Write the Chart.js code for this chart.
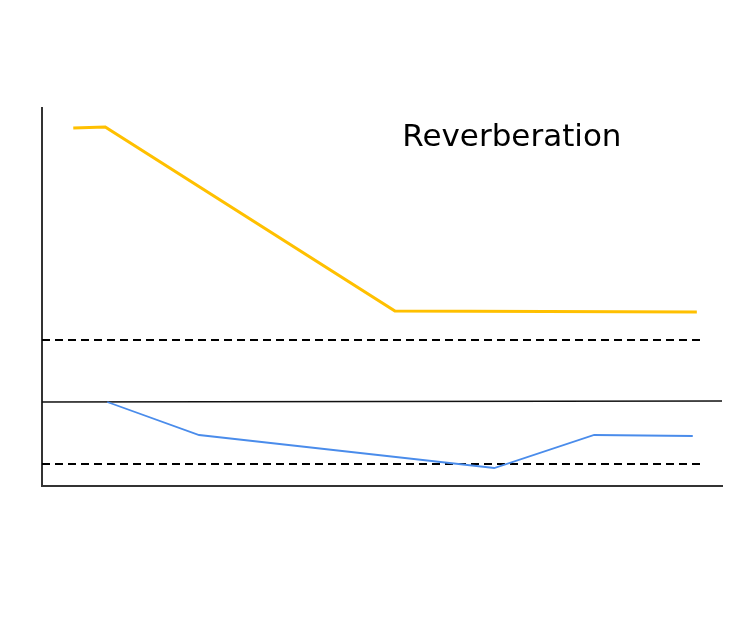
<!DOCTYPE html>
<html>
<head>
<meta charset="utf-8">
<script src="https://cdn.jsdelivr.net/npm/chart.js@4/dist/chart.umd.min.js"></script>
<style>
html,body{margin:0;padding:0;background:#fff;}
#wrap{width:756px;height:627px;position:relative;}
</style>
</head>
<body>
<div id="wrap"><canvas id="c" width="756" height="627"></canvas></div>
<script>
// x in percent of time axis, y in arbitrary level units
const reverbX = [4.6, 9.3, 51.9, 96.3];
const reverbY = [358, 359, 175, 174];
const lowerX = [9.6, 23.1, 66.5, 81.2, 95.7];
const lowerY = [84, 51, 18, 51, 50];
const upperThresholdX = [0, 97.2];
const upperThresholdY = [146, 146];
const lowerThresholdX = [0, 97.2];
const lowerThresholdY = [22, 22];
const dividerX = [0, 100];
const dividerY = [84, 85];
const titleText = 'Reverberation';

const toPts = (xs, ys) => xs.map((x, i) => ({x: x, y: ys[i]}));

const titlePlugin = {
  id: 'titleText',
  afterDatasetsDraw(chart) {
    const ctx = chart.ctx;
    const xs = chart.scales.x, ys = chart.scales.y;
    ctx.save();
    ctx.font = '31px "DejaVu Sans", Verdana, sans-serif';
    ctx.fillStyle = '#000';
    ctx.textAlign = 'center';
    ctx.textBaseline = 'middle';
    ctx.fillText(titleText, xs.getPixelForValue(69.1), ys.getPixelForValue(348));
    ctx.restore();
  }
};

new Chart(document.getElementById('c'), {
  type: 'line',
  data: {
    datasets: [
      {data: toPts(reverbX, reverbY), borderColor: '#FFC000', borderWidth: 3.2, pointRadius: 0, tension: 0},
      {data: toPts(lowerX, lowerY), borderColor: '#4A8CEB', borderWidth: 1.8, pointRadius: 0, tension: 0},
      {data: toPts(upperThresholdX, upperThresholdY), borderColor: '#000', borderWidth: 2, borderDash: [8, 5], pointRadius: 0},
      {data: toPts(lowerThresholdX, lowerThresholdY), borderColor: '#000', borderWidth: 2, borderDash: [8, 5], pointRadius: 0},
      {data: toPts(dividerX, dividerY), borderColor: '#111', borderWidth: 1.6, pointRadius: 0}
    ]
  },
  options: {
    responsive: false,
    animation: false,
    layout: {padding: {left: 42, top: 108, right: 34, bottom: 141}},
    plugins: {legend: {display: false}, tooltip: {enabled: false}, title: {display: false}},
    scales: {
      x: {type: 'linear', min: 0, max: 100,
          ticks: {display: false}, grid: {display: false, drawTicks: false},
          border: {display: true, color: '#333', width: 2}},
      y: {type: 'linear', min: 0, max: 378,
          ticks: {display: false}, grid: {display: false, drawTicks: false},
          border: {display: true, color: '#333', width: 2}}
    }
  },
  plugins: [titlePlugin]
});
</script>
</body>
</html>
